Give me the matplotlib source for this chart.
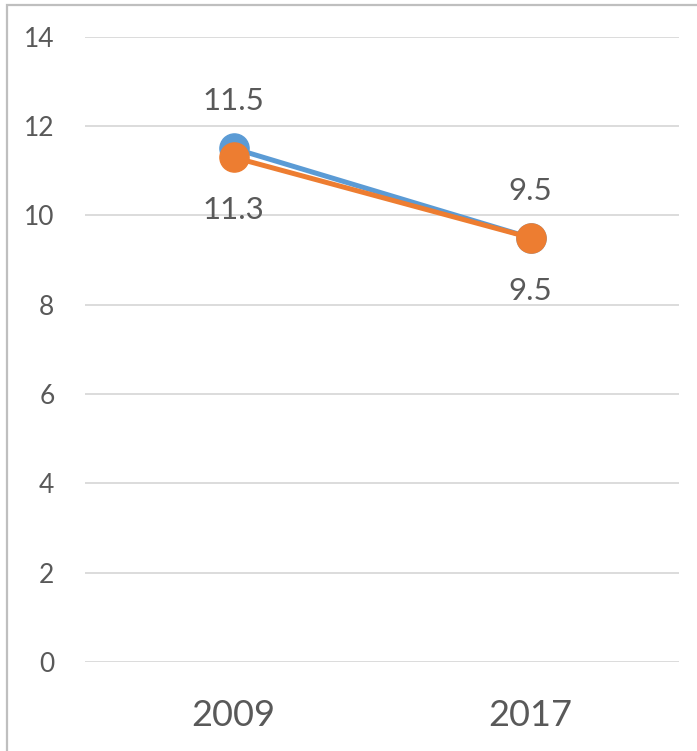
import matplotlib
matplotlib.use("Agg")
import matplotlib.pyplot as plt
from matplotlib.patches import Rectangle

years = ["2009", "2017"]
series_a = [11.5, 9.5]
series_b = [11.3, 9.5]
y_ticks = [0, 2, 4, 6, 8, 10, 12, 14]

BLUE = "#5B9BD5"
ORANGE = "#ED7D31"
TEXT = "#595959"
GRID = "#D9D9D9"

plt.rcParams["font.family"] = ["Lato", "DejaVu Sans"]

W, H = 697, 751
fig = plt.figure(figsize=(W / 100, H / 100), dpi=100)
fig.patch.set_facecolor("white")

# chart frame: only the left and top edges fall inside the image
fig.patches.append(Rectangle((7 / W, -0.1), 1.2, 1.1 - 5 / H + 0.0,
                             transform=fig.transFigure, fill=False,
                             edgecolor="#BFBFBF", linewidth=1.6, zorder=0))

ax = fig.add_axes([85 / W, 1 - 662 / H, (679 - 85) / W, (662 - 36.7) / H])
ax.set_facecolor("none")

x = list(range(len(years)))
ax.plot(x, series_a, color=BLUE, linewidth=3.6, marker="o", markersize=21,
        solid_capstyle="round", zorder=3)
ax.plot(x, series_b, color=ORANGE, linewidth=3.6, marker="o", markersize=21,
        solid_capstyle="round", zorder=4)

for xi, v in zip(x, series_a):
    ax.annotate(f"{v:.1f}", (xi, v), xytext=(0, 47), textcoords="offset pixels",
                ha="center", va="center", fontsize=22.5, color=TEXT)
for xi, v in zip(x, series_b):
    ax.annotate(f"{v:.1f}", (xi, v), xytext=(0, -53), textcoords="offset pixels",
                ha="center", va="center", fontsize=22.5, color=TEXT)

ax.set_xlim(-0.5, 1.5)
ax.set_ylim(0, 14)
ax.set_yticks(y_ticks)
ax.set_yticklabels([str(t) for t in y_ticks])
ax.set_xticks(x)
ax.set_xticklabels(years)

ax.yaxis.grid(True, color=GRID, linewidth=1.3)
ax.set_axisbelow(True)
for s in ax.spines.values():
    s.set_visible(False)

ax.tick_params(axis="y", length=0, pad=22, labelsize=19, labelcolor=TEXT)
ax.tick_params(axis="x", length=0, pad=27, labelsize=26, labelcolor=TEXT)

fig.savefig("out.png", dpi=100)
